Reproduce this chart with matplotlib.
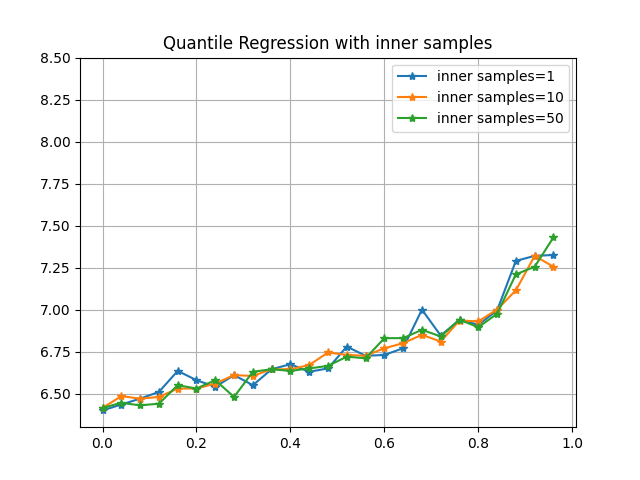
import numpy as np
import matplotlib
matplotlib.use("Agg")
import matplotlib.pyplot as plt

x = np.arange(0, 1.0, 0.04)

s1 = [6.40, 6.435, 6.47, 6.51, 6.635, 6.58, 6.54, 6.61, 6.55, 6.645, 6.675, 6.63, 6.65,
      6.78, 6.725, 6.73, 6.77, 7.00, 6.845, 6.94, 6.91, 6.995, 7.29, 7.32, 7.325]
s10 = [6.415, 6.485, 6.47, 6.48, 6.53, 6.53, 6.56, 6.61, 6.605, 6.645, 6.645, 6.67, 6.745,
       6.73, 6.725, 6.77, 6.80, 6.85, 6.81, 6.935, 6.93, 7.00, 7.115, 7.32, 7.255]
s50 = [6.415, 6.445, 6.43, 6.44, 6.55, 6.53, 6.58, 6.48, 6.63, 6.645, 6.635, 6.65, 6.665,
       6.72, 6.71, 6.83, 6.83, 6.88, 6.84, 6.94, 6.895, 6.975, 7.21, 7.255, 7.43]

plt.figure(figsize=(6.4, 4.8), dpi=100)
plt.plot(x, s1, marker='*', label='inner samples=1')
plt.plot(x, s10, marker='*', label='inner samples=10')
plt.plot(x, s50, marker='*', label='inner samples=50')
plt.title("Quantile Regression with inner samples")
plt.ylim(6.3, 8.5)
plt.grid(True)
plt.legend(loc='upper right')
plt.savefig("out.png")
